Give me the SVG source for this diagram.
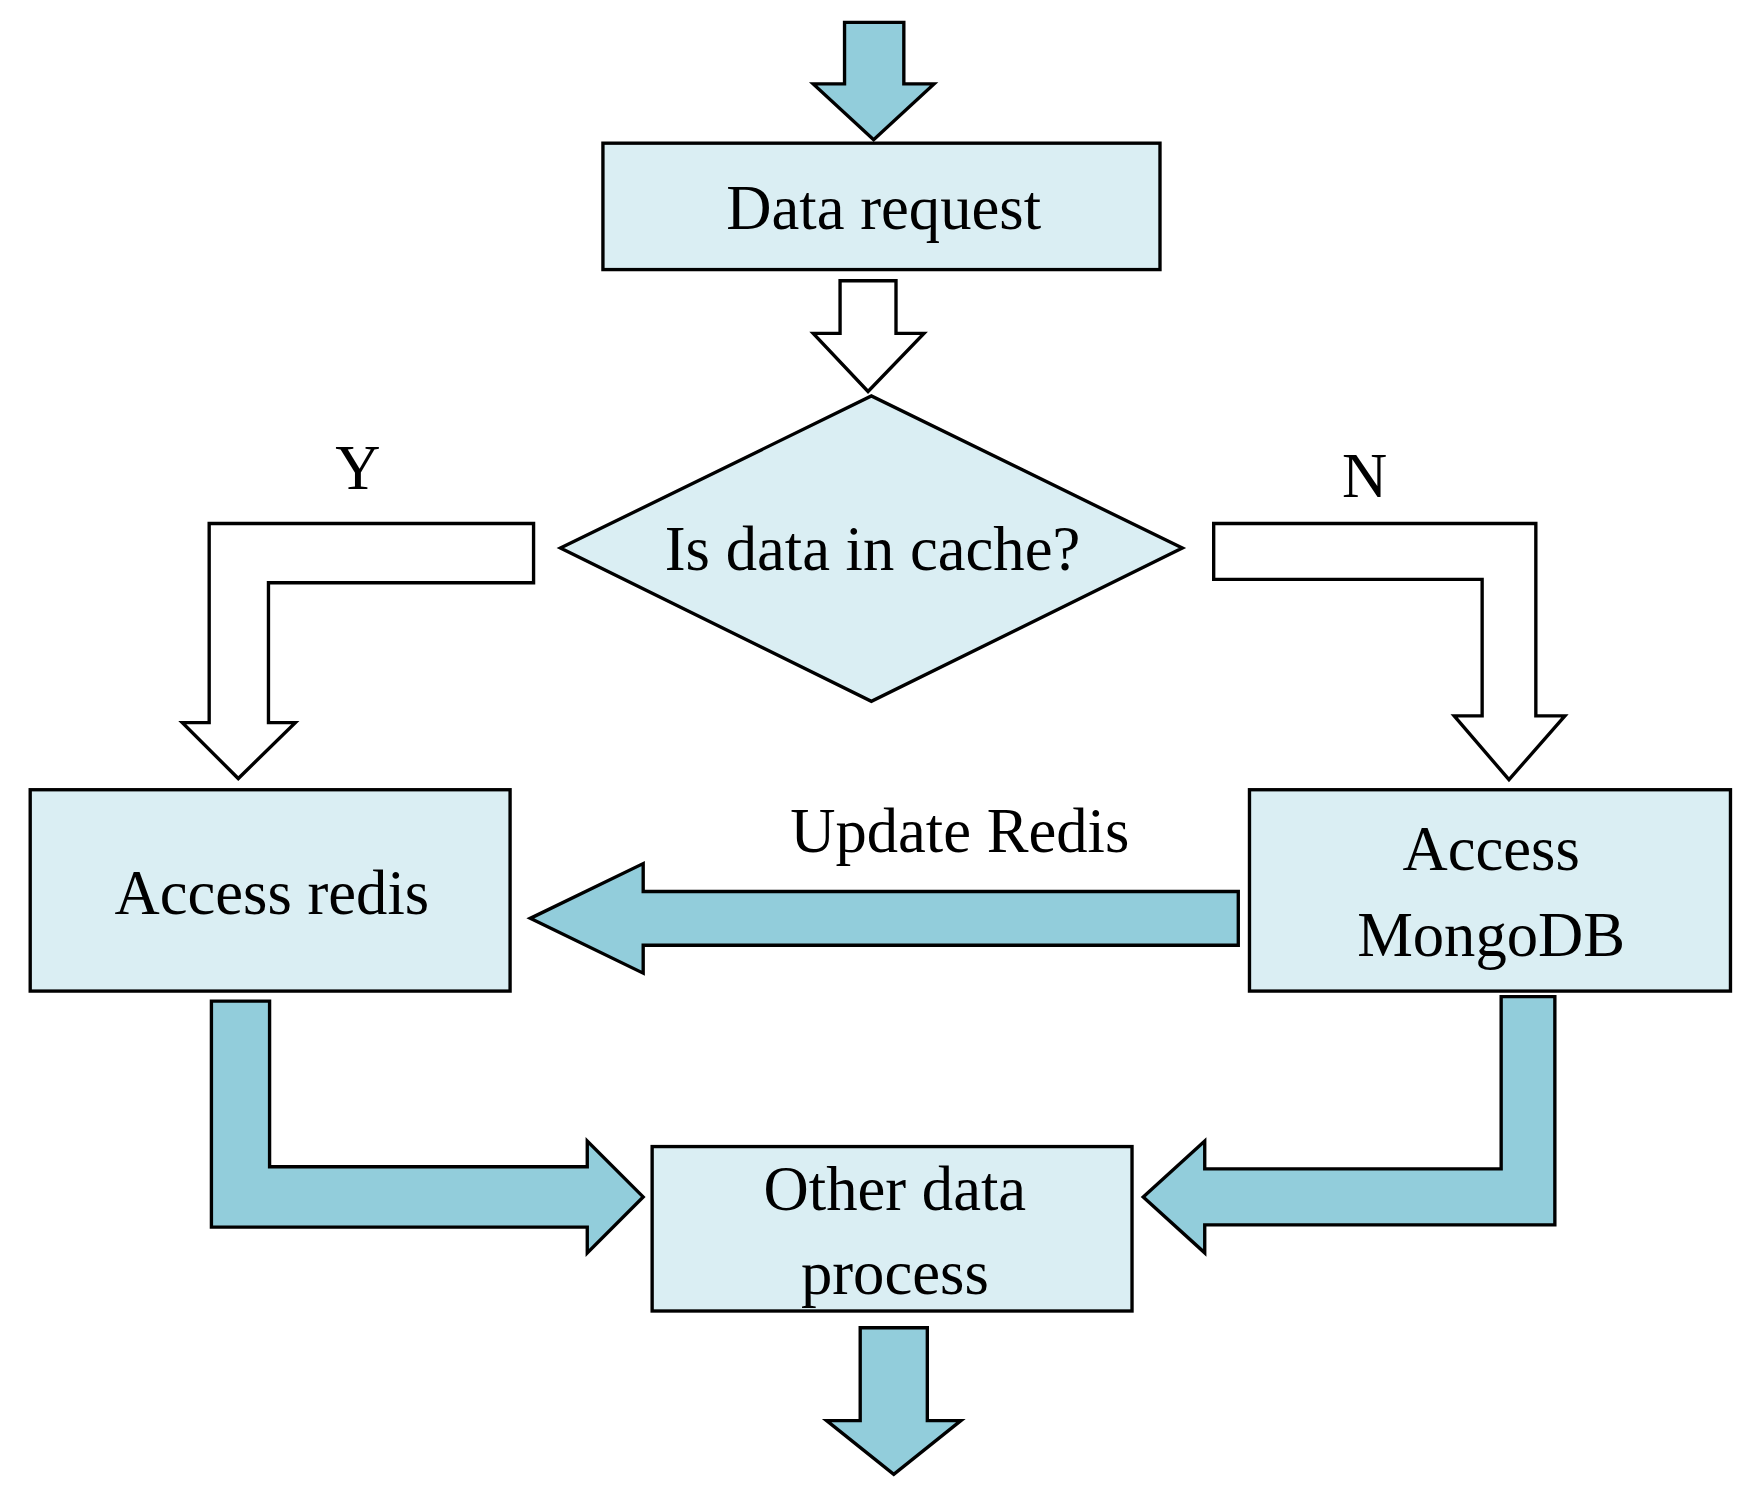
<svg xmlns="http://www.w3.org/2000/svg" width="1754" height="1500" viewBox="0 0 1754 1500">
<style>
.box{fill:#DAEEF3;stroke:#000;stroke-width:3}
.blue{fill:#92CDDB;stroke:#000;stroke-width:3;stroke-linejoin:miter}
.white{fill:#fff;stroke:#000;stroke-width:3}
text{font-family:"Liberation Serif","Times New Roman",serif;font-size:56px;text-anchor:middle;fill:#000}
</style>
<rect width="1754" height="1500" fill="#fff"/>
<g transform="scale(1.1186)">
<g id="connectors">
<path class="blue" d="M755,20 H808 V75 H835 L781,125 L727,75 H755 Z"/>
<path class="white" d="M751,251 H801 V298 H826 L776,350 L727,298 H751 Z"/>
<path class="white" d="M477,468 H187 V646 H163 L213,696 L264,646 H240 V521 H477 Z"/>
<path class="white" d="M1085,468 H1373 V640 H1399 L1349,697 L1300,640 H1325 V518 H1085 Z"/>
<path class="blue" d="M1107,797 H575 V772 L474,821 L575,870 V845 H1107 Z"/>
<path class="blue" d="M189,895 H241 V1043 H525 V1020 L575,1070 L525,1120 V1097 H189 Z"/>
<path class="blue" d="M1342,891 H1390 V1095 H1077 V1120 L1022,1070 L1077,1020 V1045 H1342 Z"/>
<path class="blue" d="M769,1187 H829 V1270 H859 L799,1318 L739,1270 H769 Z"/>
<text x="320" y="437">Y</text>
<text x="1220" y="444">N</text>
<text x="858" y="762">Update Redis</text>
</g>
<g id="data-request"><rect class="box" x="539" y="128" width="498" height="113"/><text x="790" y="205">Data request</text></g>
<g id="decision"><polygon class="box" points="501,490 779,354 1057,490 779,627"/><text x="780" y="510">Is data in cache?</text></g>
<g id="access-redis"><rect class="box" x="27" y="706" width="429" height="180"/><text x="243" y="817">Access redis</text></g>
<g id="access-mongodb"><rect class="box" x="1117" y="706" width="430" height="180"/><text x="1333" y="778">Access</text><text x="1333" y="855">MongoDB</text></g>
<g id="other-process"><rect class="box" x="583" y="1025" width="429" height="147"/><text x="800" y="1082">Other data</text><text x="800" y="1157">process</text></g>
</g>
</svg>
